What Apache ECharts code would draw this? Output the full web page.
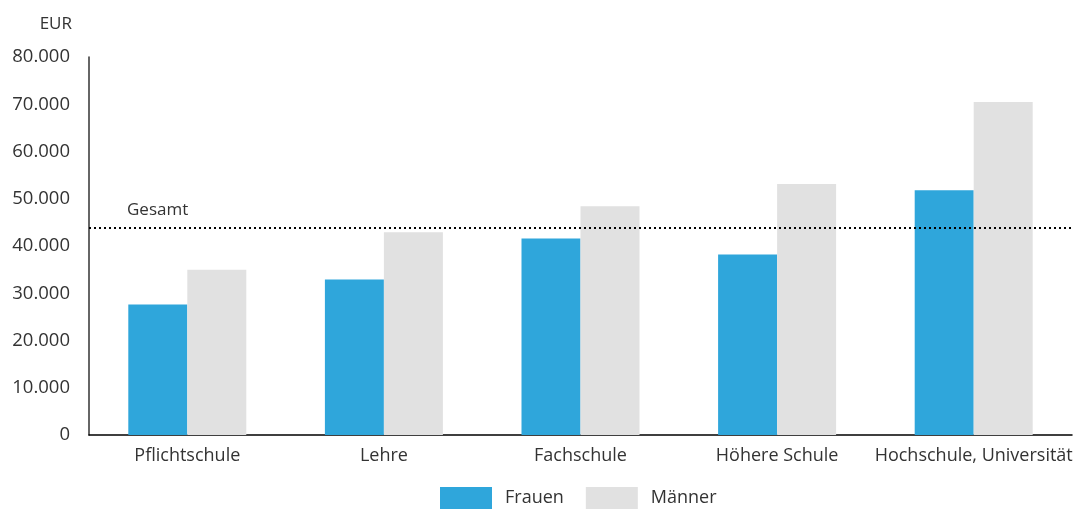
<!DOCTYPE html>
<html>
<head>
<meta charset="utf-8">
<title>Einkommen nach Bildung</title>
<script src="https://cdn.jsdelivr.net/npm/echarts@6/dist/echarts.min.js"></script>
<style>
  html, body { margin: 0; padding: 0; background: #fff; }
  #chart { width: 1078px; height: 510px; }
</style>
</head>
<body>
<div id="chart"></div>
<script>
  var categories = ['Pflichtschule', 'Lehre', 'Fachschule', 'Höhere Schule', 'Hochschule, Universität'];
  var frauen = [27600, 32900, 41600, 38200, 51800];
  var maenner = [35000, 42900, 48400, 53100, 70500];
  var gesamt = 43900;
  var yTicks = [0, 10000, 20000, 30000, 40000, 50000, 60000, 70000, 80000];

  var textColor = '#333';
  var font = 'Open Sans';

  var chart = echarts.init(document.getElementById('chart'));

  var option = {
    animation: false,
    textStyle: { fontFamily: font, color: textColor },
    grid: { left: 89, right: 6, top: 57, bottom: 75, containLabel: false },
    legend: {
      top: 482,
      left: 435,
      itemWidth: 52,
      itemHeight: 22,
      itemGap: 22,
      icon: 'rect',
      textStyle: { fontSize: 18, color: textColor, padding: [0, 0, 0, 8] },
      data: ['Frauen', 'Männer']
    },
    xAxis: {
      type: 'category',
      data: categories,
      axisLine: { lineStyle: { color: '#000', width: 1.5 } },
      axisTick: { show: false },
      axisLabel: { fontSize: 18, color: textColor, margin: 12, interval: 0 }
    },
    yAxis: {
      type: 'value',
      min: yTicks[0],
      max: yTicks[yTicks.length - 1],
      interval: 10000,
      name: 'EUR',
      nameLocation: 'end',
      nameGap: 24,
      nameTextStyle: { fontSize: 17, color: textColor, align: 'right', padding: [0, 17, 0, 0] },
      axisLine: { show: true, lineStyle: { color: '#333', width: 1.5 } },
      axisTick: { show: false },
      splitLine: { show: false },
      axisLabel: {
        fontSize: 18.5,
        color: textColor,
        margin: 19,
        formatter: function (v) {
          return v === 0 ? '0' : v.toLocaleString('de-DE');
        }
      }
    },
    series: [
      {
        name: 'Frauen',
        type: 'bar',
        data: frauen,
        barWidth: 59,
        barGap: '0%',
        itemStyle: { color: '#2fa6db' },
        markLine: {
          silent: true,
          symbol: 'none',
          lineStyle: { color: '#000', type: [2, 3], width: 2 },
          label: {
            show: true,
            position: 'insideStartTop',
            formatter: 'Gesamt',
            fontSize: 17,
            color: textColor,
            distance: [38, 9]
          },
          data: [{ yAxis: gesamt }]
        }
      },
      {
        name: 'Männer',
        type: 'bar',
        data: maenner,
        barWidth: 59,
        barGap: '0%',
        itemStyle: { color: '#e1e1e1' }
      }
    ]
  };

  chart.setOption(option);
</script>
</body>
</html>
